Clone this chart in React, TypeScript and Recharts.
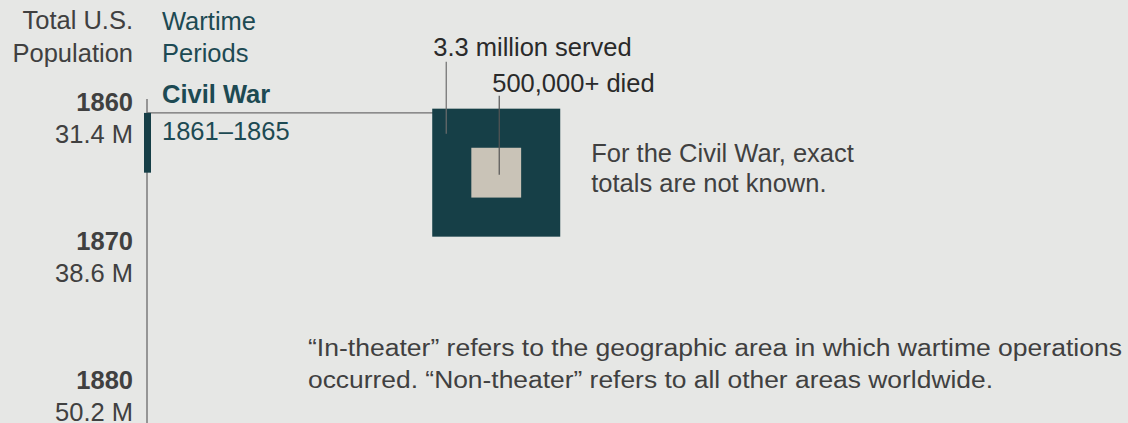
import { ScatterChart, Scatter, XAxis, YAxis, ZAxis, ReferenceArea, ReferenceLine, Customized } from 'recharts';

// population ticks (decade, millions)
const decades = [1860, 1870, 1880];
const populationMillions = [31.4, 38.6, 50.2];

// wartime periods
const warNames = ['Civil War'];
const warStarts = [1861];
const warEnds = [1865.3];
const warLabels = ['1861–1865'];

// people served / died, millions
const servedMillions = [3.3];
const diedMillions = [0.5];
const servedLabels = ['3.3 million served'];
const diedLabels = ['500,000+ died'];

const BG = '#e6e7e5';
const TEAL = '#163f47';
const TEAL_TEXT = '#1d4a53';
const SAND = '#c9c3b7';
const GRAY_TEXT = '#404040';
const LINE = '#6e6e6e';
const FONT = '"Liberation Sans", Arial, Helvetica, sans-serif';
const FS = 25.5;

const SQUARE_COL = 35.6; // column for the squares, % of plot width

const servedData = servedMillions.map((v, i) => ({ x: SQUARE_COL, y: warEnds[i], z: v, label: servedLabels[i] }));
const diedData = diedMillions.map((v, i) => ({ x: SQUARE_COL, y: warEnds[i], z: v, label: diedLabels[i] }));

function PopulationTick({ x, y, payload }: any) {
  const i = decades.indexOf(payload.value);
  return (
    <g fontFamily={FONT} fontSize={FS} fill={GRAY_TEXT}>
      <text x={x} y={y + 12} textAnchor="end" fontWeight="bold">{payload.value}</text>
      <text x={x} y={y + 44} textAnchor="end">{populationMillions[i]} M</text>
    </g>
  );
}

function WarBar({ x, y, height }: any) {
  return (
    <g fontFamily={FONT} fontSize={FS} fill={TEAL_TEXT}>
      <rect x={x - 3} y={y} width={7} height={height} fill={TEAL} />
      <text x={x + 15} y={y - 10} fontWeight="bold">{warNames[0]}</text>
      <text x={x + 15} y={y + 27}>{warLabels[0]}</text>
    </g>
  );
}

function ServedSquare({ cx, cy, size, payload }: any) {
  const side = Math.sqrt(size);
  const left = cx - side / 2;
  const top = cy - side / 2;
  return (
    <g fontFamily={FONT} fontSize={FS}>
      <rect x={left} y={top} width={side} height={side} fill={TEAL} />
      <text x={left + 1} y={top - 53} fill="#2a2a2a">{payload.label}</text>
      <line x1={left + 14} x2={left + 14} y1={top - 47} y2={top + 25} stroke={LINE} strokeWidth={1.2} />
      <text x={left + side + 31} y={cy - 11} fill={GRAY_TEXT}>For the Civil War, exact</text>
      <text x={left + side + 31} y={cy + 19} fill={GRAY_TEXT}>totals are not known.</text>
    </g>
  );
}

function DiedSquare({ cx, cy, size, payload }: any) {
  const side = Math.sqrt(size);
  const top = cy - side / 2;
  return (
    <g fontFamily={FONT} fontSize={FS}>
      <rect x={cx - side / 2} y={top} width={side} height={side} fill={SAND} />
      <text x={cx - 4} y={top - 56} fill="#2a2a2a">{payload.label}</text>
      <line x1={cx + 3} x2={cx + 3} y1={top - 52} y2={cy + 2} stroke="#555" strokeWidth={1.2} />
    </g>
  );
}

function Headers() {
  return (
    <g fontFamily={FONT} fontSize={FS}>
      <text x={133} y={29} textAnchor="end" fill={GRAY_TEXT}>Total U.S.</text>
      <text x={133} y={62} textAnchor="end" fill={GRAY_TEXT}>Population</text>
      <text x={162} y={30} fill={TEAL_TEXT}>Wartime</text>
      <text x={162} y={62} fill={TEAL_TEXT}>Periods</text>
      <text x={308} y={356} fontSize={23.5} fill={GRAY_TEXT} textLength={814} lengthAdjust="spacingAndGlyphs">
        “In-theater” refers to the geographic area in which wartime operations
      </text>
      <text x={308} y={388} fontSize={23.5} fill={GRAY_TEXT} textLength={685} lengthAdjust="spacingAndGlyphs">
        occurred. “Non-theater” refers to all other areas worldwide.
      </text>
    </g>
  );
}

export default function App() {
  return (
    <div style={{ position: 'absolute', left: 0, top: 0, width: 1128, height: 423, background: BG, overflow: 'hidden' }}>
      <ScatterChart width={1128} height={423} margin={{ top: 99, right: 0, bottom: 0, left: 0 }}>
        <XAxis type="number" dataKey="x" domain={[0, 100]} hide />
        <YAxis
          type="number"
          dataKey="y"
          domain={[1860, 1883.31]}
          reversed
          ticks={decades}
          width={147}
          tickLine={false}
          tickSize={0}
          tickMargin={14}
          axisLine={{ stroke: '#7a7a7a', strokeWidth: 1.5 }}
          tick={<PopulationTick />}
        />
        <ZAxis type="number" dataKey="z" domain={[0, 3.3]} range={[0, 16384]} />
        <ReferenceLine
          segment={[{ x: 0, y: warStarts[0] }, { x: SQUARE_COL, y: warStarts[0] }]}
          stroke={LINE}
          strokeWidth={1.2}
        />
        <ReferenceArea x1={0} x2={0} y1={warStarts[0]} y2={warEnds[0]} shape={<WarBar />} ifOverflow="visible" zIndex={700} />
        <Scatter data={servedData} shape={<ServedSquare />} isAnimationActive={false} />
        <Scatter data={diedData} shape={<DiedSquare />} isAnimationActive={false} />
        <Customized component={Headers} />
      </ScatterChart>
    </div>
  );
}
